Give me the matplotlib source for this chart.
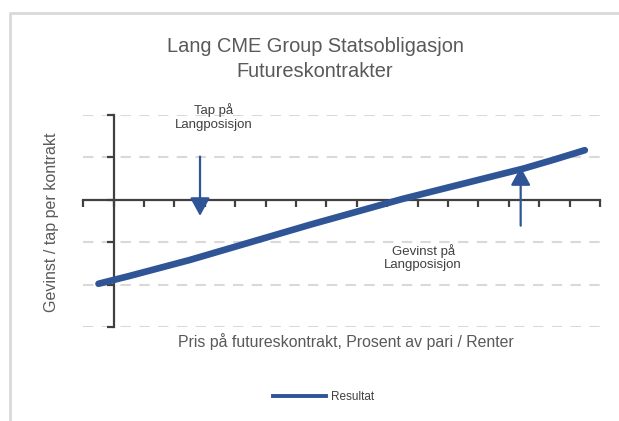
import matplotlib
matplotlib.use("Agg")
import matplotlib.pyplot as plt
from matplotlib.lines import Line2D
from matplotlib.patches import FancyArrowPatch
import numpy as np

plt.rcParams['font.family'] = ['Liberation Sans', 'DejaVu Sans']

# ---- data ----
categories = list(range(1, 18))
resultat = [-1.98, -1.80, -1.61, -1.42, -1.21, -1.00, -0.79, -0.58, -0.38,
            -0.18, 0.02, 0.20, 0.38, 0.56, 0.74, 0.95, 1.17]
y_ticks = [-3, -2, -1, 0, 1, 2]
title = "Lang CME Group Statsobligasjon\nFutureskontrakter"
x_label = "Pris på futureskontrakt, Prosent av pari / Renter"
y_label = "Gevinst / tap per kontrakt"
note_loss = "Tap på\nLangposisjon"
note_gain = "Gevinst på\nLangposisjon"
series_name = "Resultat"

BLUE = "#2F5597"
AXC = "#404040"
GRID = "#D9D9D9"
TXT = "#595959"

W, H = 619, 421
fig = plt.figure(figsize=(W / 100, H / 100), dpi=100)
ax = fig.add_axes([83.3 / W, 1 - 327 / H, 516.7 / W, 212 / H])
ax.set_facecolor("none")

x = np.array(categories)
ax.set_xlim(0.5, 17.5)
ax.set_ylim(-3, 2)

# gridlines
for yv in y_ticks:
    if yv == 0:
        continue
    ax.axhline(yv, color=GRID, lw=1.5, ls=(0, (5, 4)), zorder=1)

# axes spines
for s in ["top", "right"]:
    ax.spines[s].set_visible(False)
ax.spines["bottom"].set_position(("data", 0))
ax.spines["left"].set_position(("data", 1.5))
for s in ["bottom", "left"]:
    ax.spines[s].set_color(AXC)
    ax.spines[s].set_linewidth(1.6)
    ax.spines[s].set_zorder(2)
ax.set_xticks(np.arange(0.5, 17.6, 1))
ax.set_yticks(y_ticks)
ax.tick_params(axis="both", direction="out", length=5, width=1.6, color=AXC,
               labelbottom=False, labelleft=False)

# series
ax.plot(x, resultat, color=BLUE, lw=4.8, solid_capstyle="round", zorder=5,
        clip_on=False)

# arrows
for (x0, y0, y1) in [(4.34, 1.02, -0.38), (14.89, -0.61, 0.77)]:
    arr = FancyArrowPatch((x0, y0), (x0, y1),
                          arrowstyle="-|>,head_length=0.55,head_width=0.3",
                          mutation_scale=20, color=BLUE, lw=1.6,
                          shrinkA=0, shrinkB=0, zorder=6)
    ax.add_patch(arr)

ax.text(4.8, 1.95, note_loss, ha="center", va="center", fontsize=9.5,
        color=AXC, linespacing=1.15)
ax.text(11.68, -1.36, note_gain, ha="center", va="center", fontsize=9.5,
        color=AXC, linespacing=1.15)

# title and labels
fig.text(315 / W, 1 - 59 / H, title, ha="center", va="center", fontsize=14.4,
         color=TXT, linespacing=1.45)
fig.text(346 / W, 1 - 342 / H, x_label, ha="center", va="center",
         fontsize=11.4, color=TXT)
fig.text(52 / W, 1 - 222 / H, y_label, ha="center", va="center",
         fontsize=11.5, color=TXT, rotation=90)

# legend
handle = Line2D([0], [0], color=BLUE, lw=2.8)
fig.legend([handle], [series_name], loc="center",
           bbox_to_anchor=(323.5 / W, 1 - 397 / H), frameon=False,
           fontsize=8.5, handlelength=4.5, handletextpad=0.35,
           labelcolor=AXC)

# chart frame (left and top edges)
fy = 1 - 13.3 / H
fx = 9.5 / W
fig.add_artist(Line2D([fx, fx, 1], [0, fy, fy], transform=fig.transFigure,
                      color=GRID, lw=2.0))

fig.savefig("out.png", dpi=100)
